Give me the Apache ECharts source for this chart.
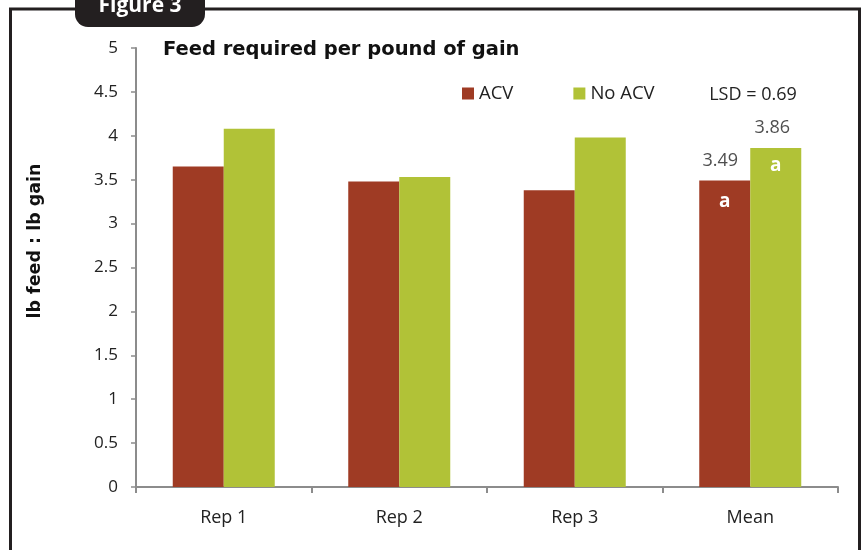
<!DOCTYPE html>
<html><head><meta charset="utf-8">
<script src="https://cdn.jsdelivr.net/npm/echarts@6/dist/echarts.min.js"></script>
<style>html,body{margin:0;padding:0;background:#fff}#c{width:861px;height:550px}</style>
</head><body><div id="c"></div>
<script>
var categories = ['Rep 1', 'Rep 2', 'Rep 3', 'Mean'];
var acv = [3.65, 3.48, 3.38, 3.49];
var noAcv = [4.08, 3.53, 3.98, 3.86];
var yTicks = { min: 0, max: 5, interval: 0.5 };
var meanLabelsAcv = ['', '', '', '3.49'];
var meanLabelsNo = ['', '', '', '3.86'];
var letterAcv = ['', '', '', 'a'];
var letterNo = ['', '', '', 'a'];
var FONT = '"Open Sans", "Noto Sans", sans-serif';
var WIDE = '"DejaVu Sans", "Open Sans", sans-serif';
var C_ACV = '#9f3b24', C_NO = '#b1c237';

function barData(vals, letters) {
  return vals.map(function (v, i) {
    return { value: v, label: { show: letters[i] !== '', formatter: letters[i] } };
  });
}
function topLabels(vals, labels) {
  return vals.map(function (v, i) {
    return { value: [categories[i], v], label: { show: labels[i] !== '', formatter: labels[i] } };
  });
}

var chart = echarts.init(document.getElementById('c'), null, { renderer: 'canvas' });
chart.setOption({
  animation: false,
  textStyle: { fontFamily: FONT },
  title: {
    text: 'Feed required per pound of gain', left: 158, top: 35,
    textStyle: { fontFamily: WIDE, fontSize: 19.5, fontWeight: 'bold', color: '#111' }
  },
  legend: {
    data: ['ACV', 'No ACV'], left: 462, top: 84, icon: 'rect', itemWidth: 12, itemHeight: 12,
    itemGap: 60, padding: 0, textStyle: { fontFamily: FONT, fontSize: 18.5, color: '#222' }
  },
  grid: { left: 136, right: 23, top: 48, bottom: 63 },
  xAxis: {
    type: 'category', data: categories,
    axisLine: { lineStyle: { color: '#8c8c8c', width: 2 } },
    axisTick: { show: true, length: 6, lineStyle: { color: '#8c8c8c', width: 2 } },
    axisLabel: { fontFamily: FONT, fontSize: 18, color: '#222', margin: 22 }
  },
  yAxis: {
    type: 'value', min: yTicks.min, max: yTicks.max, interval: yTicks.interval,
    axisLine: { show: true, lineStyle: { color: '#8c8c8c', width: 2 } },
    axisTick: { show: true, length: 5, lineStyle: { color: '#8c8c8c', width: 1.5 } },
    splitLine: { show: false },
    axisLabel: { fontFamily: FONT, fontSize: 17, color: '#222', margin: 18 }
  },
  series: [
    {
      name: 'ACV', type: 'bar', barWidth: 51, barGap: '0%', itemStyle: { color: C_ACV },
      label: { position: 'insideTop', distance: 12, color: '#fff', fontWeight: 'bold', fontSize: 19, fontFamily: FONT },
      data: barData(acv, letterAcv)
    },
    {
      name: 'No ACV', type: 'bar', barWidth: 51, barGap: '0%', itemStyle: { color: C_NO },
      label: { position: 'insideTop', distance: 8, color: '#fff', fontWeight: 'bold', fontSize: 19, fontFamily: FONT },
      data: barData(noAcv, letterNo)
    },
    {
      type: 'scatter', symbolSize: 0, silent: true, z: 5,
      label: { position: 'top', distance: 11, offset: [-30, 0], color: '#222', fontSize: 18, fontFamily: FONT },
      data: topLabels(acv, meanLabelsAcv)
    },
    {
      type: 'scatter', symbolSize: 0, silent: true, z: 5,
      label: { position: 'top', distance: 11, offset: [22, 0], color: '#222', fontSize: 18, fontFamily: FONT },
      data: topLabels(noAcv, meanLabelsNo)
    }
  ],
  graphic: [
    { type: 'rect', shape: { x: 10.5, y: 9, width: 849, height: 560 }, style: { fill: 'none', stroke: '#231f20', lineWidth: 3 }, z: 10 },
    { type: 'rect', shape: { x: 75, y: -15, width: 130, height: 42, r: 13 }, style: { fill: '#231f20' }, z: 11 },
    { type: 'text', x: 140, y: 6, style: { text: 'Figure 3', fill: '#fff', font: 'bold 21px ' + FONT, textAlign: 'center', textVerticalAlign: 'middle' }, z: 12 },
    { type: 'text', x: 753, y: 95, style: { text: 'LSD = 0.69', fill: '#222', font: '18px ' + FONT, textAlign: 'center', textVerticalAlign: 'middle' }, z: 12 },
    { type: 'text', x: 35, y: 241, rotation: Math.PI / 2, style: { text: 'lb feed : lb gain', fill: '#111', font: 'bold 17.5px ' + WIDE, textAlign: 'center', textVerticalAlign: 'middle' }, z: 12 }
  ]
});
</script></body></html>
